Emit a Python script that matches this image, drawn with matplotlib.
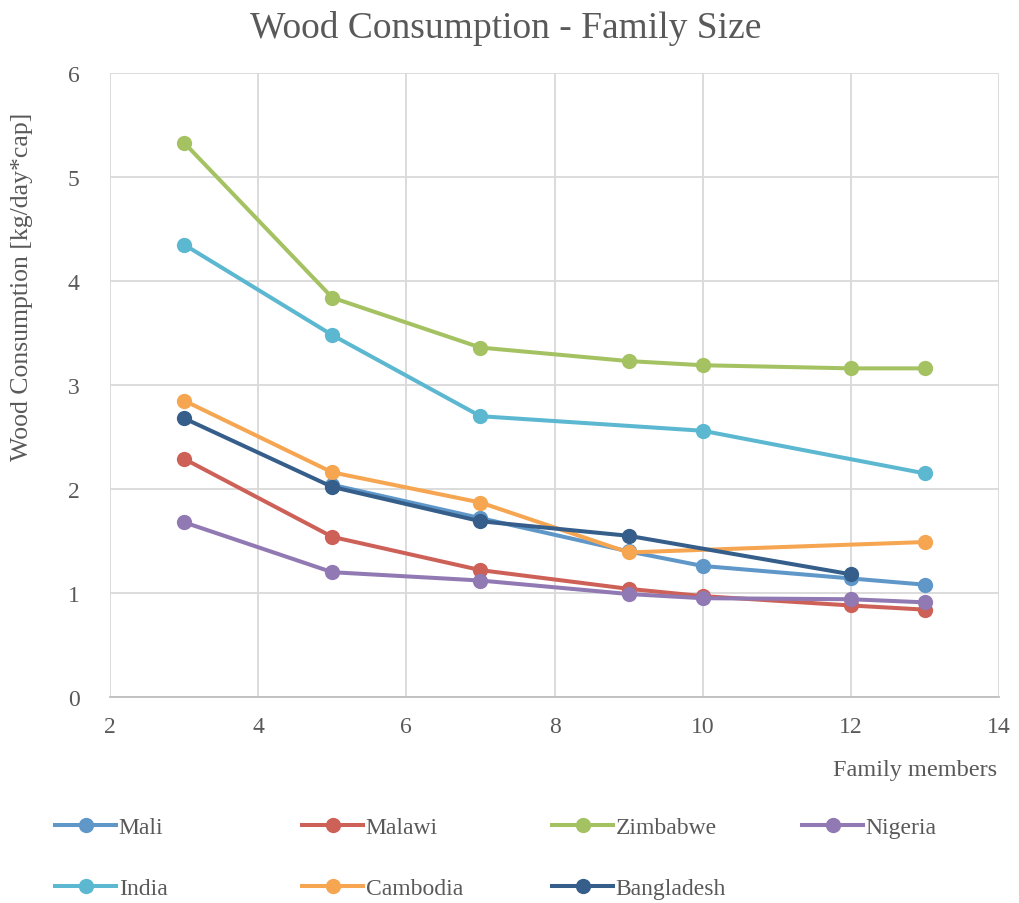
import matplotlib
matplotlib.use("Agg")
import matplotlib.pyplot as plt
from matplotlib.lines import Line2D

plt.rcParams['font.family'] = ['Liberation Serif', 'DejaVu Serif']

TEXT = '#595959'

# Family size (x) and wood consumption per capita (y), per country
mali_x = [5, 7, 9, 10, 12, 13]
mali_y = [2.04, 1.72, 1.40, 1.26, 1.14, 1.08]

malawi_x = [3, 5, 7, 9, 10, 12, 13]
malawi_y = [2.29, 1.54, 1.22, 1.04, 0.97, 0.88, 0.84]

zimbabwe_x = [3, 5, 7, 9, 10, 12, 13]
zimbabwe_y = [5.33, 3.84, 3.36, 3.23, 3.19, 3.16, 3.16]

nigeria_x = [3, 5, 7, 9, 10, 12, 13]
nigeria_y = [1.68, 1.20, 1.12, 0.99, 0.95, 0.94, 0.91]

india_x = [3, 5, 7, 10, 13]
india_y = [4.35, 3.48, 2.70, 2.56, 2.15]

cambodia_x = [3, 5, 7, 9, 13]
cambodia_y = [2.85, 2.16, 1.87, 1.39, 1.49]

bangladesh_x = [3, 5, 7, 9, 12]
bangladesh_y = [2.68, 2.02, 1.69, 1.55, 1.18]

series = [
    ("Mali", mali_x, mali_y, '#5f97c9'),
    ("Malawi", malawi_x, malawi_y, '#cd6158'),
    ("Zimbabwe", zimbabwe_x, zimbabwe_y, '#a5c263'),
    ("Nigeria", nigeria_x, nigeria_y, '#9179b3'),
    ("India", india_x, india_y, '#5bb8d0'),
    ("Cambodia", cambodia_x, cambodia_y, '#f6a651'),
    ("Bangladesh", bangladesh_x, bangladesh_y, '#355f8a'),
]

x_ticks = [2, 4, 6, 8, 10, 12, 14]
y_ticks = [0, 1, 2, 3, 4, 5, 6]

fig = plt.figure(figsize=(10.2, 9.04), dpi=100)
ax = fig.add_axes([110 / 1020, 1 - 698 / 904, (999 - 110) / 1020, (698 - 74) / 904])

for name, xs, ys, col in series:
    ax.plot(xs, ys, color=col, lw=2.9, marker='o', markersize=11,
            markeredgewidth=0, label=name, zorder=3, solid_capstyle='round')

ax.set_xlim(2, 14)
ax.set_ylim(0, 6)
ax.set_xticks(x_ticks)
ax.set_yticks(y_ticks)
ax.grid(True, color='#d9d9d9', lw=1.3, zorder=0)
for s in ['top', 'right', 'left']:
    ax.spines[s].set_visible(False)
ax.spines['bottom'].set_color('#bfbfbf')
ax.spines['bottom'].set_linewidth(1.3)
ax.tick_params(length=0, labelsize=17, labelcolor=TEXT, pad=14)
ax.tick_params(axis='y', pad=22)

fig.text(506 / 1020, 1 - 28 / 904, "Wood Consumption - Family Size",
         fontsize=27, color=TEXT, ha='center', va='center')
ax.set_ylabel("Wood Consumption [kg/day*cap]", fontsize=18.5, color=TEXT, va='center')
ax.yaxis.set_label_coords((22 - 110) / 889, (698 - 287) / 624)
fig.text(997 / 1020, 1 - 771 / 904, "Family members", fontsize=17.5, color=TEXT,
         ha='right', va='center')

# Legend: four columns, two rows
col_x = [55, 302, 552, 802]
row_y = [828, 889]
for i, (name, xs, ys, col) in enumerate(series):
    r, c = divmod(i, 4)
    h = Line2D([], [], color=col, lw=2.9, marker='o', markersize=11, markeredgewidth=0)
    leg = fig.legend([h], [name], loc='center left',
                     bbox_to_anchor=(col_x[c] / 1020, 1 - row_y[r] / 904),
                     frameon=False, fontsize=17, handlelength=2.6,
                     handletextpad=0.1, borderpad=0, borderaxespad=0)
    for t in leg.get_texts():
        t.set_color(TEXT)

fig.savefig("out.png", dpi=100)
